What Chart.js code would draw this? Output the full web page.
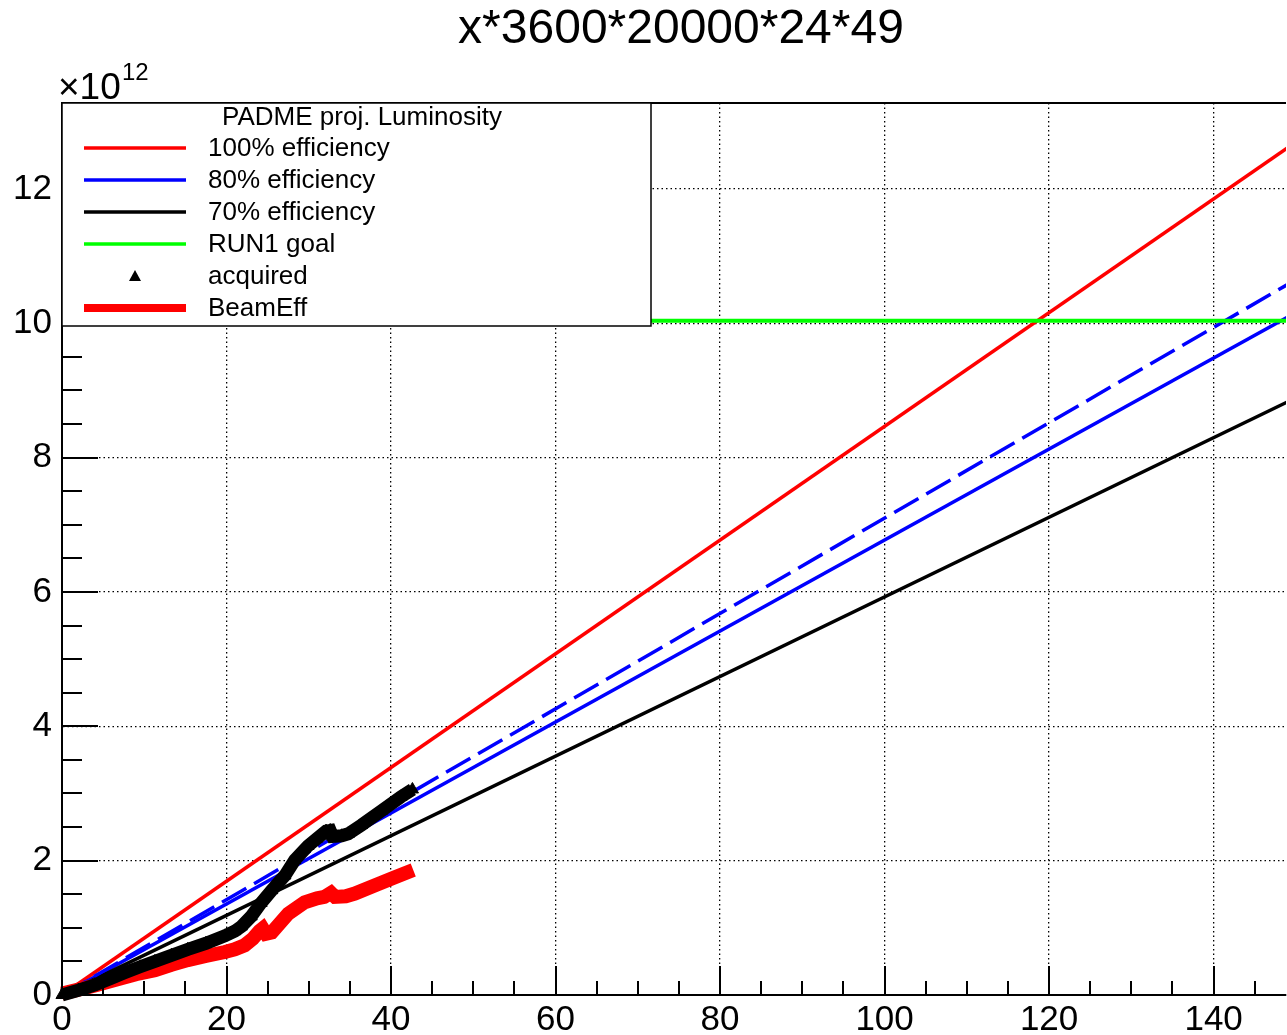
<!DOCTYPE html>
<html>
<head>
<meta charset="utf-8">
<script src="https://cdn.jsdelivr.net/npm/chart.js@4.4.1/dist/chart.umd.min.js"></script>
<style>
html, body { margin: 0; padding: 0; background: #fff; overflow: hidden; }
#wrap { width: 1287px; height: 1035px; overflow: hidden; }
</style>
</head>
<body>
<div id="wrap"><canvas id="lumi" width="1294" height="1035"></canvas></div>
<script>
const FONT = '"Liberation Sans", Arial, Helvetica, sans-serif';

const titleText = 'x*3600*20000*24*49';
const legendTitle = 'PADME proj. Luminosity';

// axis ticks (y in units of 10^12)
const xTicks = [0, 20, 40, 60, 80, 100, 120, 140];
const yTicks = [0, 2, 4, 6, 8, 10, 12];

// projections vs days
const projDays = [0, 150];
const proj100 = [0, 12.70];
const proj80 = [0, 10.16];
const proj70 = [0, 8.89];
const projTrend = [0, 10.65];
const goalDays = [0, 150];
const goal = [10.04, 10.04];

// acquired luminosity
const acqDays = [0, 2, 4, 6, 7.6, 9.5, 11.3, 13.3, 15.3, 17.5, 19.8, 21, 21.8, 23, 24.2, 25.5, 27.1, 28.3, 29.9, 31, 32.1, 32.6, 32.9, 34, 34.8, 36.4, 38.8, 41.2, 42.6];
const acquired = [0, 0.07, 0.15, 0.25, 0.33, 0.42, 0.5, 0.59, 0.68, 0.77, 0.88, 0.95, 1.02, 1.17, 1.37, 1.56, 1.78, 2.01, 2.22, 2.33, 2.44, 2.45, 2.36, 2.37, 2.4, 2.53, 2.74, 2.95, 3.06];

// beam efficiency weighted
const effDays = [0, 2, 4, 7.2, 9, 11.3, 13.3, 15.3, 17.5, 19.8, 21, 22.2, 23.2, 24, 24.4, 24.8, 25.5, 27.5, 29.5, 31, 31.9, 32.7, 33.2, 34.5, 35.6, 38, 40.4, 42.7];
const beamEff = [0.02, 0.08, 0.14, 0.25, 0.31, 0.37, 0.45, 0.52, 0.58, 0.64, 0.68, 0.74, 0.84, 0.95, 0.99, 0.91, 0.93, 1.21, 1.38, 1.44, 1.46, 1.52, 1.46, 1.47, 1.51, 1.63, 1.75, 1.86];

const pts = (xs, ys) => xs.map((v, i) => ({ x: v, y: ys[i] }));

const rootStyle = {
    id: 'rootStyle',
    afterDatasetsDraw(chart) {
        const { ctx, chartArea: a, scales: { x, y } } = chart;
        ctx.save();
        ctx.strokeStyle = '#000';
        ctx.lineWidth = 2;
        ctx.beginPath();
        for (let v = 0; v <= x.max; v += 5) {
            const px = Math.round(x.getPixelForValue(v));
            const len = v % 20 === 0 ? 29 : 14;
            ctx.moveTo(px, a.bottom);
            ctx.lineTo(px, a.bottom - len);
        }
        for (let v = 0; v <= y.max; v += 0.5) {
            const py = Math.round(y.getPixelForValue(v));
            const len = v % 2 === 0 ? 36 : 20;
            ctx.moveTo(a.left, py);
            ctx.lineTo(a.left + len, py);
        }
        // top frame
        ctx.moveTo(a.left, a.top);
        ctx.lineTo(a.right, a.top);
        ctx.stroke();

        // legend box
        const bx = a.left, by = a.top, bw = 589, bh = 223;
        ctx.fillStyle = '#fff';
        ctx.fillRect(bx, by, bw, bh);
        ctx.lineWidth = 1.5;
        ctx.strokeRect(bx, by, bw, bh);
        ctx.fillStyle = '#000';
        ctx.font = '26px ' + FONT;
        ctx.textBaseline = 'middle';
        ctx.textAlign = 'center';
        ctx.fillText(legendTitle, 362, by + 15);
        ctx.textAlign = 'left';
        const rows = chart.data.datasets.filter(d => d.legendRow !== undefined)
            .sort((p, q) => p.legendRow - q.legendRow);
        rows.forEach((d, i) => {
            const ry = by + 45 + i * 32;
            if (d.marker) {
                ctx.beginPath();
                ctx.moveTo(135, ry - 6);
                ctx.lineTo(141, ry + 5);
                ctx.lineTo(129, ry + 5);
                ctx.closePath();
                ctx.fill();
            } else {
                ctx.beginPath();
                ctx.strokeStyle = d.borderColor;
                ctx.lineWidth = d.legendWidth || 3.5;
                ctx.moveTo(84, ry);
                ctx.lineTo(186, ry);
                ctx.stroke();
            }
            ctx.fillStyle = '#000';
            ctx.fillText(d.label, 208, ry + 1);
        });
        ctx.restore();
    },
    afterDraw(chart) {
        const { ctx } = chart;
        ctx.save();
        ctx.fillStyle = '#000';
        ctx.textBaseline = 'middle';
        ctx.textAlign = 'center';
        ctx.font = '48px ' + FONT;
        ctx.fillText(titleText, 681, 30);
        ctx.textBaseline = 'alphabetic';
        ctx.textAlign = 'left';
        ctx.font = '37px ' + FONT;
        ctx.fillText('\u00d710', 58, 99);
        ctx.font = '24px ' + FONT;
        ctx.fillText('12', 122, 80);
        ctx.restore();
    }
};

new Chart(document.getElementById('lumi'), {
    type: 'scatter',
    data: {
        datasets: [
            {
                label: 'acquired', data: pts(acqDays, acquired), showLine: true,
                borderColor: '#000', backgroundColor: '#000', borderWidth: 13,
                pointStyle: 'triangle', pointRadius: 7, pointBorderWidth: 1,
                order: 1, clip: false, legendRow: 4, marker: true
            },
            {
                label: 'BeamEff', data: pts(effDays, beamEff), showLine: true,
                borderColor: '#ff0000', backgroundColor: '#ff0000', borderWidth: 14,
                pointRadius: 0, order: 2, clip: false, legendRow: 5, legendWidth: 8
            },
            {
                label: 'RUN1 goal', data: pts(goalDays, goal), showLine: true,
                borderColor: '#00ff00', borderWidth: 4, pointRadius: 0, order: 3, legendRow: 3
            },
            {
                label: 'trend', data: pts(projDays, projTrend), showLine: true,
                borderColor: '#0000ff', borderWidth: 3.5, borderDash: [28, 9],
                pointRadius: 0, order: 4
            },
            {
                label: '70% efficiency', data: pts(projDays, proj70), showLine: true,
                borderColor: '#000', borderWidth: 3.5, pointRadius: 0, order: 5, legendRow: 2
            },
            {
                label: '80% efficiency', data: pts(projDays, proj80), showLine: true,
                borderColor: '#0000ff', borderWidth: 3.5, pointRadius: 0, order: 6, legendRow: 1
            },
            {
                label: '100% efficiency', data: pts(projDays, proj100), showLine: true,
                borderColor: '#ff0000', borderWidth: 3.5, pointRadius: 0, order: 7, legendRow: 0
            }
        ]
    },
    options: {
        responsive: false,
        animation: false,
        devicePixelRatio: 1,
        layout: { padding: { top: 103, right: 0, left: 0, bottom: 0 } },
        plugins: {
            legend: { display: false },
            tooltip: { enabled: false },
            title: { display: false }
        },
        scales: {
            x: {
                type: 'linear', min: 0, max: 148.8,
                afterBuildTicks: s => { s.ticks = xTicks.map(v => ({ value: v })); },
                afterFit: s => { s.height = 40; },
                grid: { color: '#000', lineWidth: 1.3, drawTicks: false },
                border: { display: true, color: '#000', width: 2, dash: [1.5, 3] },
                ticks: { color: '#000', font: { family: FONT, size: 35 }, padding: 4, autoSkip: false, maxRotation: 0 }
            },
            y: {
                type: 'linear', min: 0, max: 13.28,
                afterBuildTicks: s => { s.ticks = yTicks.map(v => ({ value: v })); },
                afterFit: s => { s.width = 62; },
                grid: { color: '#000', lineWidth: 1.3, drawTicks: false },
                border: { display: true, color: '#000', width: 2, dash: [1.5, 3] },
                ticks: { color: '#000', font: { family: FONT, size: 35 }, padding: 10, autoSkip: false }
            }
        }
    },
    plugins: [rootStyle]
});
</script>
</body>
</html>
